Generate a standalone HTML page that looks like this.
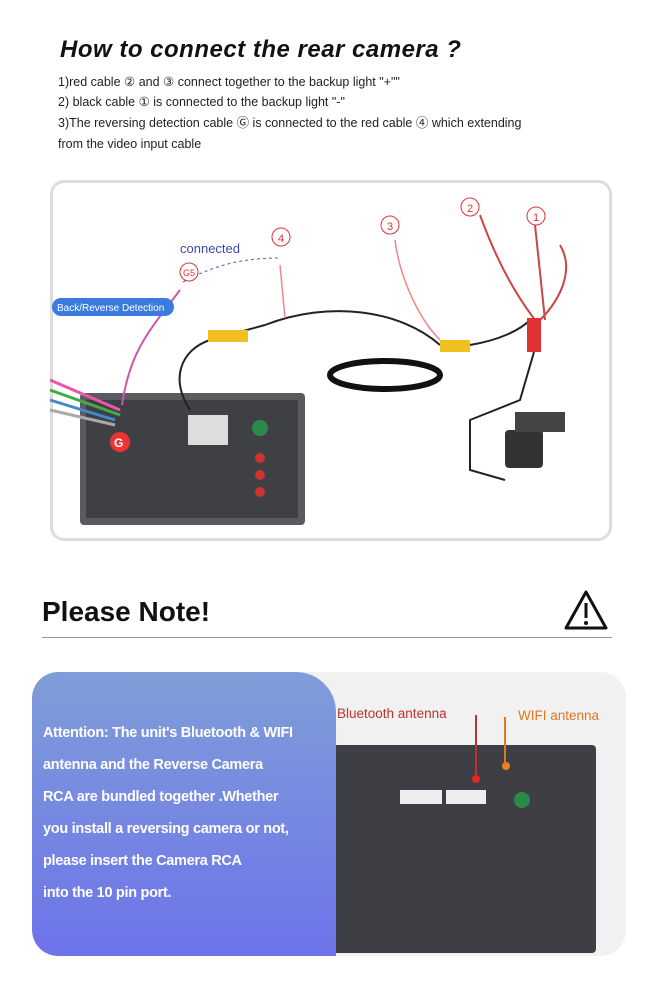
<!DOCTYPE html>
<html><head><meta charset="utf-8"><style>
*{margin:0;padding:0;box-sizing:border-box}
body{width:664px;height:1000px;background:#fff;position:relative;overflow:hidden;font-family:"Liberation Sans",sans-serif}
.a{position:absolute}
h1{position:absolute;left:60px;top:36px;font-size:24px;font-style:italic;font-weight:bold;color:#111;letter-spacing:.5px}
.l{position:absolute;left:58px;font-size:12.5px;line-height:15px;height:15px;color:#222;white-space:nowrap}
</style></head><body>
<h1>How to connect the rear camera ?</h1>
<div class="l" style="top:75px">1)red cable ② and ③ connect together to the backup light "+""</div>
<div class="l" style="top:95px">2) black cable ① is connected to the backup light "-"</div>
<div class="l" style="top:116px">3)The reversing detection cable Ⓖ is connected to the red cable ④ which extending</div>
<div class="l" style="top:137px">from the video input cable</div>

<div class="a" style="left:50px;top:180px;width:562px;height:361px;border:3px solid #ddd;border-radius:14px;background:#fff"></div>
<svg class="a" style="left:0;top:0" width="664" height="560">
 <rect x="80" y="393" width="225" height="132" rx="4" fill="#5a5b5f"/>
 <rect x="86" y="400" width="212" height="118" fill="#3f4044"/>
 <rect x="188" y="415" width="40" height="30" fill="#ddd"/>
 <circle cx="260" cy="428" r="8" fill="#2a8a4a"/>
 <circle cx="260" cy="458" r="5" fill="#c33"/><circle cx="260" cy="475" r="5" fill="#c33"/><circle cx="260" cy="492" r="5" fill="#c33"/>
 <circle cx="120" cy="442" r="10" fill="#e33"/><text x="114" y="447" font-size="12" fill="#fff" font-weight="bold">G</text>
 <g stroke-width="3"><path d="M50 380 L120 410" stroke="#e5a"/><path d="M50 390 L120 415" stroke="#4a4"/><path d="M50 400 L115 420" stroke="#48c"/><path d="M50 410 L115 425" stroke="#aaa"/></g>
 <path d="M122 405 C130 350,150 330,180 290" stroke="#c5a" stroke-width="2" fill="none"/>
 <path d="M190 410 C170 380,180 350,210 340 L265 325" stroke="#222" stroke-width="2" fill="none"/>
 <rect x="208" y="330" width="40" height="12" fill="#f0c020"/>
 <path d="M265 325 C330 300,400 310,440 345" stroke="#222" stroke-width="2" fill="none"/>
 <path d="M280 265 L285 318" stroke="#e88" stroke-width="1.5" fill="none"/>
 <path d="M183 282 C220 262,250 258,280 258" stroke="#55c" stroke-dasharray="3 3" fill="none"/>
 <ellipse cx="385" cy="375" rx="55" ry="14" fill="none" stroke="#111" stroke-width="6"/>
 <rect x="440" y="340" width="30" height="12" fill="#f0c020"/>
 <path d="M470 345 C500 340,520 330,530 320" stroke="#222" stroke-width="2" fill="none"/>
 <path d="M395 240 C400 280,420 320,440 340" stroke="#e88" stroke-width="1.5" fill="none"/>
 <path d="M480 215 C500 270,520 300,535 320 M535 225 L545 320 M560 245 C575 270,560 300,540 320" stroke="#c44" stroke-width="2" fill="none"/>
 <rect x="527" y="318" width="14" height="34" fill="#d33"/>
 <path d="M534 352 L520 400 L470 420 L470 470 L505 480" stroke="#222" stroke-width="2" fill="none"/>
 <rect x="505" y="430" width="38" height="38" rx="4" fill="#333"/>
 <rect x="515" y="412" width="50" height="20" fill="#444"/>
 <g font-size="14" font-family="Liberation Sans" text-anchor="middle">
 <circle cx="281" cy="237" r="9" fill="#fff" stroke="#d33"/><text x="281" y="242" fill="#d33" font-size="11">4</text>
 <circle cx="390" cy="225" r="9" fill="#fff" stroke="#d33"/><text x="390" y="230" fill="#d33" font-size="11">3</text>
 <circle cx="470" cy="207" r="9" fill="#fff" stroke="#d33"/><text x="470" y="212" fill="#d33" font-size="11">2</text>
 <circle cx="536" cy="216" r="9" fill="#fff" stroke="#d33"/><text x="536" y="221" fill="#d33" font-size="11">1</text>
 <circle cx="189" cy="272" r="9" fill="#fff" stroke="#d33"/><text x="189" y="276" fill="#d33" font-size="9">G5</text>
 </g>
 <text x="180" y="253" font-size="13" fill="#3a4ab0" font-family="Liberation Sans">connected</text>
 <rect x="52" y="298" width="122" height="18" rx="9" fill="#3b7be0"/>
 <text x="57" y="311" font-size="10" fill="#fff" font-family="Liberation Sans">Back/Reverse Detection</text>
</svg>

<div class="a" style="left:42px;top:596px;font-size:28px;font-weight:bold;color:#111">Please Note!</div>
<div class="a" style="left:42px;top:637px;width:570px;height:1px;background:#999"></div>
<svg class="a" style="left:562px;top:588px" width="48" height="44"><path d="M24 4 L44 40 L4 40 Z" fill="none" stroke="#111" stroke-width="3" stroke-linejoin="round"/><rect x="22.5" y="15" width="3" height="15" fill="#111"/><circle cx="24" cy="35" r="2" fill="#111"/></svg>

<div class="a" style="left:32px;top:672px;width:594px;height:284px;border-radius:26px;background:#f1f1f2;overflow:hidden">
 <div class="a" style="left:298px;top:73px;width:266px;height:208px;background:#3e3f44;border-radius:4px"></div>
 <div class="a" style="left:368px;top:118px;width:42px;height:14px;background:#eee"></div>
 <div class="a" style="left:414px;top:118px;width:40px;height:14px;background:#eee"></div>
 <div class="a" style="left:482px;top:120px;width:16px;height:16px;border-radius:50%;background:#2a8a4a"></div>
 <div class="a" style="left:440px;top:103px;width:8px;height:8px;border-radius:50%;background:#e22"></div>
 <div class="a" style="left:470px;top:90px;width:8px;height:8px;border-radius:50%;background:#f08020"></div>
 <div class="a" style="left:443px;top:43px;width:2px;height:62px;background:#c03030"></div>
 <div class="a" style="left:472px;top:45px;width:2px;height:48px;background:#e07820"></div>
 <div class="a" style="left:305px;top:34px;font-size:13.5px;color:#c03030">Bluetooth antenna</div>
 <div class="a" style="left:486px;top:36px;font-size:13.5px;color:#e07820">WIFI antenna</div>
 <div class="a" style="left:0;top:0;width:304px;height:284px;border-radius:26px 40px 0 26px;background:linear-gradient(180deg,#7f9ed8,#6d73ea);color:#fff;font-weight:bold;font-size:14.5px;line-height:32px;padding:45px 0 0 11px;letter-spacing:-.3px">Attention: The unit's Bluetooth &amp; WIFI<br>antenna and the Reverse Camera<br>RCA are bundled together .Whether<br>you install a reversing camera or not,<br>please insert the Camera RCA<br>into the 10 pin port.</div>
</div>
</body></html>
